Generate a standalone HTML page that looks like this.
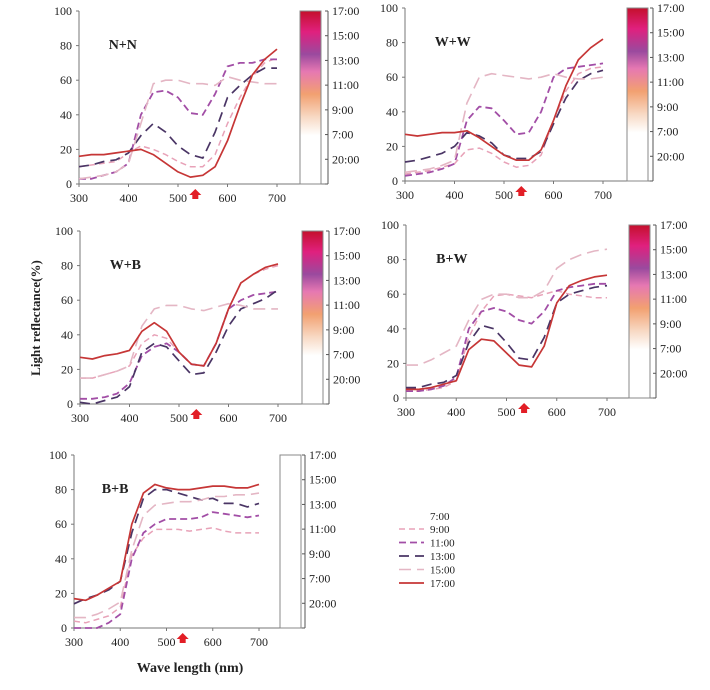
<!DOCTYPE html>
<html><head><meta charset="utf-8"><style>
body{margin:0;background:#fff;}
svg text{font-family:"Liberation Serif",serif;fill:#222;}
</style></head><body>
<svg id="fig" width="710" height="685" viewBox="0 0 710 685" xmlns="http://www.w3.org/2000/svg">
<defs>
<linearGradient id="cbg" x1="0" y1="0" x2="0" y2="1">
<stop offset="0" stop-color="#c4102c"/>
<stop offset="0.12" stop-color="#e0207e"/>
<stop offset="0.25" stop-color="#9a4a9e"/>
<stop offset="0.35" stop-color="#e678b2"/>
<stop offset="0.48" stop-color="#f2a070"/>
<stop offset="0.62" stop-color="#f8dcc8"/>
<stop offset="0.72" stop-color="#ffffff"/>
<stop offset="1" stop-color="#ffffff"/>
</linearGradient>
</defs>
<text transform="translate(40,318) rotate(-90)" text-anchor="middle" font-size="13" font-weight="bold">Light reflectance(%)</text>
<text x="190" y="672" text-anchor="middle" font-size="14" font-weight="bold">Wave length (nm)</text>
</svg>
<script>
const wavelengths=[300,325,350,375,400,425,450,475,500,525,550,575,600,625,650,675,700];
const seriesNames=['9:00','11:00','13:00','15:00','17:00'];
const nn9=[10,11,12,13,18,22,20,17,13,10,10,17,35,50,62,70,73];
const nn11=[3,3,5,7,12,40,53,54,50,41,40,52,68,70,70,72,72];
const nn13=[10,11,13,14,18,28,35,30,22,17,15,30,50,57,63,67,67];
const nn15=[3,4,5,7,12,35,58,60,60,58,58,57,62,60,59,58,58];
const nn17=[16,17,17,18,19,20,17,12,7,4,5,10,25,45,63,72,78];
const ww9=[4,5,6,8,10,18,19,16,11,8,9,15,35,52,62,65,66];
const ww11=[3,4,5,7,10,35,43,42,35,27,28,40,60,65,66,67,68];
const ww13=[11,12,14,16,20,28,26,22,15,13,13,17,33,48,58,62,64];
const ww15=[5,6,7,9,12,45,60,62,61,60,59,60,62,60,59,59,60];
const ww17=[27,26,27,28,28,29,25,20,15,12,12,18,35,55,70,77,82];
const wb9=[15,15,17,19,22,35,40,38,30,23,22,35,55,70,75,78,80];
const wb11=[3,3,4,6,12,28,33,35,30,23,22,35,55,60,63,64,65];
const wb13=[1,0,2,4,10,30,35,33,25,17,18,30,45,55,58,61,66];
const wb15=[15,15,17,19,22,45,55,57,57,55,54,56,58,57,55,55,55];
const wb17=[27,26,28,29,31,42,47,42,30,23,22,35,55,70,75,79,81];
const bw9=[4,4,5,6,10,35,50,59,60,59,58,60,62,60,59,58,58];
const bw11=[4,4,5,7,12,40,50,52,50,45,43,50,62,64,65,66,66];
const bw13=[6,6,8,9,13,32,42,40,32,23,22,35,55,60,62,64,65];
const bw15=[19,19,22,26,30,45,57,60,60,58,58,62,75,80,83,85,86];
const bw17=[5,5,6,8,10,28,34,33,26,19,18,30,55,65,68,70,71];
const bb9=[4,3,5,7,12,42,52,57,57,57,56,57,58,56,55,55,55];
const bb11=[0,0,0,3,8,40,55,60,63,63,63,64,67,66,65,64,65];
const bb13=[14,17,19,22,27,55,75,80,80,78,76,74,75,72,72,70,72];
const bb15=[6,6,8,11,15,45,65,71,72,73,73,74,76,76,77,77,78];
const bb17=[17,16,19,23,27,60,78,83,81,80,80,81,82,82,81,81,83];
const yTicks=[0,20,40,60,80,100];
const xTicks=[300,400,500,600,700];
const timeTicks=['17:00','15:00','13:00','11:00','9:00','7:00','20:00'];

const NS='http://www.w3.org/2000/svg';
const svg=document.getElementById('fig');
const styles=[
 {c:'#e8a2b8',d:'6,4',w:1.5},
 {c:'#a24ea6',d:'7,4',w:1.8},
 {c:'#4a3565',d:'10,6',w:1.7},
 {c:'#e4b6c4',d:'12,6',w:1.6},
 {c:'#c63636',d:'',w:1.7}];
function mk(tag,attrs,parent){const e=document.createElementNS(NS,tag);for(const k in attrs)e.setAttribute(k,attrs[k]);(parent||svg).appendChild(e);return e;}
const panels=[
 {id:'n-n',label:'N+N',x0:79,x1:277,y0:184,y1:11,cb:300,ax:328,grad:true,data:[nn9,nn11,nn13,nn15,nn17]},
 {id:'w-w',label:'W+W',x0:405,x1:603,y0:181,y1:8,cb:627,ax:653,grad:true,data:[ww9,ww11,ww13,ww15,ww17]},
 {id:'w-b',label:'W+B',x0:80,x1:278,y0:404,y1:231,cb:302,ax:329,grad:true,data:[wb9,wb11,wb13,wb15,wb17]},
 {id:'b-w',label:'B+W',x0:406,x1:607,y0:398,y1:225,cb:629,ax:656,grad:true,data:[bw9,bw11,bw13,bw15,bw17]},
 {id:'b-b',label:'B+B',x0:74,x1:259,y0:628,y1:455,cb:280,ax:305,grad:false,data:[bb9,bb11,bb13,bb15,bb17]}];
panels.forEach(p=>{
 const g=mk('g',{});
 
 
 const sx=v=>p.x0+(v-300)/400*(p.x1-p.x0);
 const sy=v=>p.y0+v/100*(p.y1-p.y0);
 const ya=mk('line',{x1:p.x0,y1:p.y1,x2:p.x0,y2:p.y0,stroke:'#777','stroke-width':1},g);
 
 
 const xa=mk('line',{x1:p.x0,y1:p.y0,x2:p.ax,y2:p.y0,stroke:'#777','stroke-width':1},g);
 
 
 yTicks.forEach(t=>{
  mk('line',{x1:p.x0-3,y1:sy(t),x2:p.x0,y2:sy(t),stroke:'#777'},g);
  const tx=mk('text',{x:p.x0-7,y:sy(t)+4,'text-anchor':'end','font-size':12},g);
  tx.textContent=t;
  
  
 });
 xTicks.forEach(t=>{
  mk('line',{x1:sx(t),y1:p.y0,x2:sx(t),y2:p.y0+3,stroke:'#777'},g);
  const tx=mk('text',{x:sx(t),y:p.y0+18,'text-anchor':'middle','font-size':12},g);
  tx.textContent=t;
  
  
 });
 const cb=mk('rect',{x:p.cb,y:p.y1,width:21,height:p.y0-p.y1,fill:p.grad?'url(#cbg)':'#fff',stroke:'#888','stroke-width':1},g);
 
 
 const ra=mk('line',{x1:p.ax,y1:p.y1,x2:p.ax,y2:p.y0,stroke:'#555'},g);
 
 
 const step=(p.y0-p.y1)/7;
 for(let i=0;i<=7;i++){
  const yy=p.y1+i*step;
  mk('line',{x1:p.ax-3,y1:yy,x2:p.ax,y2:yy,stroke:'#555'},g);
  if(i<7){const tx=mk('text',{x:p.ax+4,y:yy+4,'font-size':12},g);
   tx.textContent=timeTicks[i];
   
   }
 }
 p.data.forEach((arr,si)=>{
  const s=styles[si];
  const d=arr.map((v,i)=>(i?'L':'M')+sx(wavelengths[i]).toFixed(1)+','+sy(v).toFixed(1)).join(' ');
  const path=mk('path',{d:d,fill:'none',stroke:s.c,'stroke-width':s.w,'stroke-dasharray':s.d,'stroke-linejoin':'round'},g);
  
  
 });
 const lb=mk('text',{x:sx(360),y:sy(78),'font-size':14,'font-weight':'bold'},g);
 lb.textContent=p.label;
 
 
 const ax=sx(535),ay=p.y0+5;
 const ar=mk('path',{d:`M${ax},${ay} l6,6 h-3 v4 h-6 v-4 h-3 z`,fill:'#e21e26'},g);
 
 
});
const lg=mk('g',{});


const t7=mk('text',{x:430,y:520,'font-size':11},lg);
t7.textContent='7:00';


seriesNames.forEach((n,i)=>{
 const y=529+i*13.5, s=styles[i];
 const l=mk('line',{x1:399,y1:y,x2:424,y2:y,stroke:s.c,'stroke-width':s.w,'stroke-dasharray':s.d},lg);
 
 
 const t=mk('text',{x:430,y:y+4,'font-size':11},lg);
 t.textContent=n;
 
 
});
</script>
</body></html>
